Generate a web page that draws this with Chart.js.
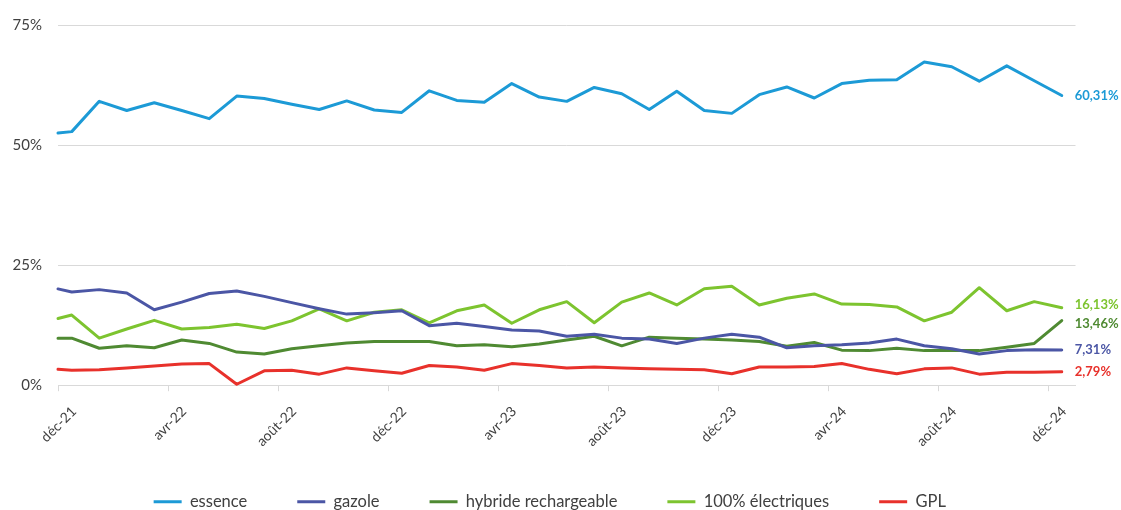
<!DOCTYPE html>
<html lang="fr">
<head>
<meta charset="utf-8">
<title>Parts de marché par énergie</title>
<script src="https://cdn.jsdelivr.net/npm/chart.js@4.4.1/dist/chart.umd.min.js"></script>
<style>
  html, body { margin: 0; padding: 0; background: #ffffff; overflow: hidden; }
  canvas { display: block; }
</style>
</head>
<body>
<canvas id="chart" width="1121" height="520"></canvas>
<script>
// Observation dates: the opening value on 1 Dec 2021, then one value per month (mid-month)
const dates = [
  '2021-12-01', '2021-12-16',
  '2022-01-16', '2022-02-16', '2022-03-16', '2022-04-16', '2022-05-16', '2022-06-16',
  '2022-07-16', '2022-08-16', '2022-09-16', '2022-10-16', '2022-11-16', '2022-12-16',
  '2023-01-16', '2023-02-16', '2023-03-16', '2023-04-16', '2023-05-16', '2023-06-16',
  '2023-07-16', '2023-08-16', '2023-09-16', '2023-10-16', '2023-11-16', '2023-12-16',
  '2024-01-16', '2024-02-16', '2024-03-16', '2024-04-16', '2024-05-16', '2024-06-16',
  '2024-07-16', '2024-08-16', '2024-09-16', '2024-10-16', '2024-11-16', '2024-12-16'
];

// Axis ticks (months counted from December 2021) and their labels
const tickMonths = [0, 4, 8, 12, 16, 20, 24, 28, 32, 36];
const tickLabels = ['déc-21', 'avr-22', 'août-22', 'déc-22', 'avr-23', 'août-23', 'déc-23', 'avr-24', 'août-24', 'déc-24'];

// Market shares (%)
const seriesNames = ['essence', 'gazole', 'hybride rechargeable', '100% électriques', 'GPL'];

const essence = [52.5, 52.8, 59.1, 57.2, 58.8, 57.2, 55.5, 60.2, 59.7, 58.5, 57.4, 59.2, 57.3,
  56.8, 61.3, 59.3, 58.9, 62.8, 60.0, 59.1, 62.0, 60.7, 57.4, 61.2, 57.2, 56.6,
  60.5, 62.1, 59.8, 62.8, 63.5, 63.6, 67.3, 66.3, 63.3, 66.5, 63.4, 60.31];

const gazole = [20.05, 19.4, 19.9, 19.2, 15.7, 17.3, 19.1, 19.6, 18.5, 17.2, 15.9, 14.8, 15.1,
  15.5, 12.4, 12.9, 12.2, 11.5, 11.3, 10.2, 10.6, 9.8, 9.6, 8.7, 9.8, 10.6,
  10.0, 7.8, 8.2, 8.4, 8.8, 9.6, 8.2, 7.6, 6.5, 7.2, 7.4, 7.31];

const hybride = [9.8, 9.8, 7.7, 8.2, 7.8, 9.4, 8.7, 6.9, 6.5, 7.6, 8.2, 8.8, 9.1,
  9.1, 9.1, 8.2, 8.4, 8.0, 8.6, 9.4, 10.2, 8.2, 10.0, 9.8, 9.6, 9.4,
  9.1, 8.1, 8.9, 7.3, 7.2, 7.7, 7.2, 7.2, 7.2, 7.9, 8.7, 13.46];

const electriques = [13.9, 14.6, 9.8, 11.7, 13.5, 11.7, 12.0, 12.7, 11.8, 13.4, 15.9, 13.4, 15.2,
  15.7, 13.0, 15.5, 16.7, 12.9, 15.7, 17.4, 13.0, 17.3, 19.2, 16.7, 20.1, 20.6,
  16.7, 18.1, 19.0, 16.9, 16.8, 16.3, 13.4, 15.2, 20.3, 15.5, 17.4, 16.13];

const gpl = [3.3, 3.1, 3.2, 3.6, 4.0, 4.4, 4.5, 0.2, 3.0, 3.1, 2.3, 3.6, 3.0,
  2.5, 4.1, 3.8, 3.1, 4.5, 4.1, 3.6, 3.8, 3.6, 3.4, 3.3, 3.2, 2.4,
  3.8, 3.8, 3.9, 4.5, 3.3, 2.4, 3.4, 3.6, 2.3, 2.7, 2.7, 2.79];

const yTicks = [0, 25, 50, 75];

// Line colours, one per series
const seriesColors = ['#1C9AD6', '#4B56A5', '#4F8A32', '#7DC42F', '#E8312B'];

// Converts an ISO date to a fractional month count from 1 Dec 2021
function monthIndex(iso) {
  const [y, m, d] = iso.split('-').map(Number);
  return (y - 2021) * 12 + (m - 12) + (d - 1) / 30;
}

const xs = dates.map(monthIndex);
const allSeries = [essence, gazole, hybride, electriques, gpl];

const datasets = allSeries.map((values, i) => ({
  label: seriesNames[i],
  data: values.map((v, j) => ({ x: xs[j], y: v })),
  borderColor: seriesColors[i],
  backgroundColor: seriesColors[i],
  borderWidth: 3,
  pointRadius: 0,
  pointHoverRadius: 0,
  tension: 0,
  borderJoinStyle: 'round',
  borderCapStyle: 'round',
  clip: false
}));

// Writes the latest value at the right end of each line,
// spreading labels vertically so that they never overlap
const LABEL_GAP = 19;
const endLabels = {
  id: 'endLabels',
  afterDatasetsDraw(chart) {
    const ctx = chart.ctx;
    const items = chart.data.datasets.map((ds, i) => {
      const meta = chart.getDatasetMeta(i);
      const last = meta.data[meta.data.length - 1];
      const value = ds.data[ds.data.length - 1].y;
      return { x: last.x, y: last.y, text: value.toFixed(2).replace('.', ',') + '%', color: ds.borderColor };
    }).sort((a, b) => a.y - b.y);

    for (let pass = 0; pass < 20; pass++) {
      let moved = false;
      for (let k = 1; k < items.length; k++) {
        const overlap = LABEL_GAP - (items[k].y - items[k - 1].y);
        if (overlap > 0.01) {
          items[k - 1].y -= overlap / 2;
          items[k].y += overlap / 2;
          moved = true;
        }
      }
      if (!moved) break;
    }

    ctx.save();
    ctx.font = 'bold 13px Lato';
    ctx.textAlign = 'left';
    ctx.textBaseline = 'middle';
    items.forEach(it => {
      ctx.fillStyle = it.color;
      ctx.fillText(it.text, it.x + 13, it.y);
    });
    ctx.restore();
  }
};

// Tick labels may spill outside their axis box (rotated dates, narrow y axis)
const unclippedTickLabels = {
  id: 'unclippedTickLabels',
  beforeDraw(chart) {
    Object.values(chart.scales).forEach(scale => {
      scale._computeLabelArea = () => undefined;
    });
  }
};

Chart.defaults.font.family = 'Lato';
Chart.defaults.color = '#404040';

const LEGEND_PAD = 50;
const CANVAS_H = 520;
const PLOT_BOTTOM = 386.7;
const PLOT_LEFT = 58;
const PAD_LEFT = 24;

new Chart(document.getElementById('chart'), {
  type: 'line',
  data: { datasets },
  plugins: [endLabels, unclippedTickLabels],
  options: {
    responsive: false,
    animation: false,
    events: [],
    layout: { padding: { top: 22.7, right: 45.5, left: PAD_LEFT, bottom: 0 } },
    scales: {
      x: {
        type: 'linear',
        min: 0,
        max: 37,
        afterBuildTicks(scale) {
          scale.ticks = tickMonths.map(v => ({ value: v }));
        },
        afterFit(scale) {
          scale.height = CANVAS_H - (25 + LEGEND_PAD) - PLOT_BOTTOM;
        },
        ticks: {
          autoSkip: false,
          minRotation: 45,
          maxRotation: 45,
          padding: 12,
          labelOffset: 16,
          font: { size: 14 },
          color: '#404040',
          callback(value) {
            const k = tickMonths.indexOf(value);
            return k >= 0 ? tickLabels[k] : '';
          }
        },
        grid: {
          drawOnChartArea: false,
          drawTicks: true,
          tickLength: 6,
          color: '#D9D9D9',
          lineWidth: 1
        },
        border: { display: true, color: '#D9D9D9', width: 1 }
      },
      y: {
        min: 0,
        max: 75,
        afterBuildTicks(scale) {
          scale.ticks = yTicks.map(v => ({ value: v }));
        },
        afterFit(scale) {
          scale.width = PLOT_LEFT - PAD_LEFT;
        },
        ticks: {
          padding: 16,
          font: { size: 15 },
          color: '#404040',
          callback: v => v + '%'
        },
        grid: {
          drawTicks: false,
          color: '#D9D9D9',
          lineWidth: 1
        },
        border: { display: false }
      }
    },
    plugins: {
      tooltip: { enabled: false },
      legend: {
        position: 'bottom',
        labels: {
          boxWidth: 28,
          boxHeight: 3,
          padding: LEGEND_PAD,
          color: '#404040',
          font: { size: 16.5 },
          generateLabels(chart) {
            return Chart.defaults.plugins.legend.labels.generateLabels(chart)
              .map(item => ({ ...item, lineWidth: 0 }));
          }
        }
      }
    }
  }
});
</script>
</body>
</html>
